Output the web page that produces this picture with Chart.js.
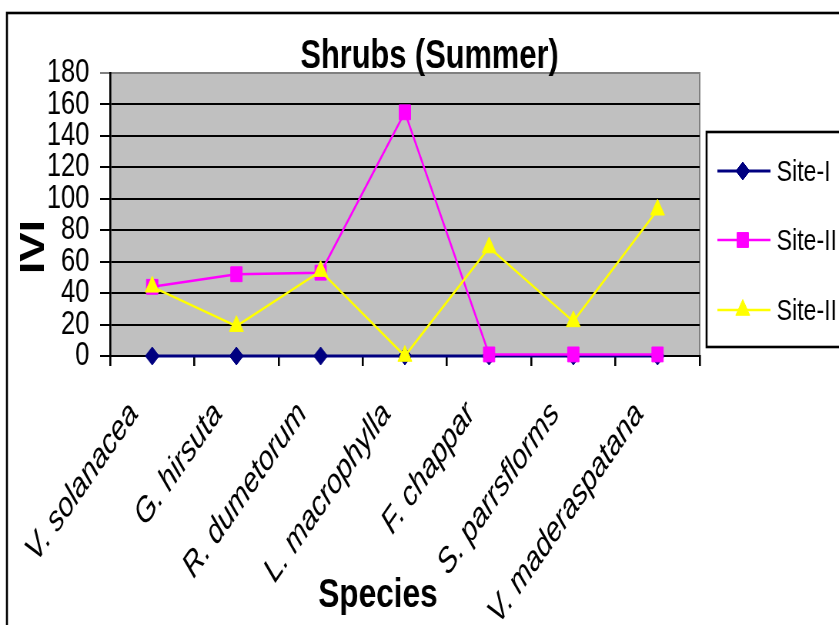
<!DOCTYPE html>
<html>
<head>
<meta charset="utf-8">
<script src="https://cdn.jsdelivr.net/npm/chart.js@4"></script>
<style>
  html, body { margin: 0; padding: 0; background: #fff; overflow: hidden; }
  /* the source chart is squeezed sideways, so draw wide and squeeze the canvas */
  #wrap { width: 1090px; height: 625px; transform: scaleX(0.7697); transform-origin: 0 0; }
</style>
</head>
<body>
<div id="wrap"><canvas id="chart" width="1090" height="625"></canvas></div>
<script>
// ------------------ Data ------------------
const species = ['V. solanacea', 'G. hirsuta', 'R. dumetorum', 'L. macrophylla',
                 'F. chappar', 'S. parrsflorms', 'V. maderaspatana'];
const siteI   = [0, 0, 0, 0, 0, 0, 0];
const siteII  = [44, 52, 53, 155, 1, 1, 1];
const siteIII = [44, 19, 54, 0, 69, 22, 93];
const seriesNames = ['Site-I', 'Site-II', 'Site-III'];
const yMin = 0, yMax = 180, yStep = 20;

const FONT = "'Liberation Sans', Arial, sans-serif";

// ------------------ Frame, titles and legend ------------------
const framePlugin = {
    id: 'frame',
    beforeDraw(chart) {
        const {ctx, chartArea: a} = chart;
        ctx.save();
        ctx.fillStyle = '#fff';
        ctx.fillRect(0, 0, chart.width, chart.height);

        // outer border, runs off the right and bottom
        ctx.strokeStyle = '#000';
        ctx.lineWidth = 2.6;
        ctx.strokeRect(9, 13, chart.width + 40, chart.height + 40);

        // grey plot area
        ctx.fillStyle = '#C0C0C0';
        ctx.fillRect(a.left, a.top, a.right - a.left, a.bottom - a.top);
        ctx.strokeStyle = '#808080';
        ctx.lineWidth = 2;
        ctx.strokeRect(a.left, a.top, a.right - a.left, a.bottom - a.top);
        ctx.restore();
    },
    afterDraw(chart) {
        const {ctx} = chart;
        ctx.save();
        ctx.fillStyle = '#000';
        ctx.textAlign = 'center';
        ctx.textBaseline = 'alphabetic';

        ctx.font = 'bold 40px ' + FONT;
        ctx.fillText('Shrubs (Summer)', 558, 68);

        ctx.font = 'bold 41px ' + FONT;
        ctx.fillText('Species', 491, 607);

        ctx.translate(57, 247);
        ctx.rotate(-Math.PI / 2);
        ctx.font = 'bold 44px ' + FONT;
        ctx.fillText('IVI', 0, 0);
        ctx.restore();

        // legend box
        ctx.save();
        ctx.fillStyle = '#fff';
        ctx.fillRect(918, 132, 300, 215);
        ctx.strokeStyle = '#000';
        ctx.lineWidth = 2.6;
        ctx.strokeRect(918, 132, 300, 215);

        const rows = [171, 240, 310];
        chart.data.datasets.forEach((ds, i) => {
            const y = rows[i];
            ctx.strokeStyle = ds.borderColor;
            ctx.lineWidth = ds.borderWidth;
            ctx.beginPath();
            ctx.moveTo(932, y);
            ctx.lineTo(1001, y);
            ctx.stroke();
            ctx.fillStyle = ds.pointBackgroundColor;
            ctx.strokeStyle = ds.pointBorderColor;
            ctx.lineWidth = 1;
            Chart.helpers.drawPoint(ctx, {pointStyle: ds.pointStyle, radius: ds.pointRadius, borderWidth: 1}, 965, y);
            ctx.fillStyle = '#000';
            ctx.font = '30px ' + FONT;
            ctx.textAlign = 'left';
            ctx.fillText(ds.label, 1009, y + 10);
        });
        ctx.restore();
    }
};

// ------------------ Chart ------------------
function series(label, values, color, style, radius, width, order) {
    return {
        label: label,
        data: values,
        borderColor: color,
        borderWidth: width,
        pointStyle: style,
        pointRadius: radius,
        pointBackgroundColor: color,
        pointBorderColor: color,
        pointBorderWidth: 1,
        tension: 0,
        clip: false,
        order: order
    };
}

new Chart(document.getElementById('chart'), {
    type: 'line',
    data: {
        labels: species,
        datasets: [
            series(seriesNames[0], siteI, '#000080', 'rectRot', 9, 3, 3),
            series(seriesNames[1], siteII, '#FF00FF', 'rect', 10.5, 2.5, 2),
            series(seriesNames[2], siteIII, '#FFFF00', 'triangle', 10.5, 2.5, 1)
        ]
    },
    options: {
        responsive: false,
        animation: false,
        layout: { padding: { top: 73, right: 181, bottom: 0, left: 0 } },
        plugins: {
            legend: { display: false },
            title: { display: false },
            tooltip: { enabled: false }
        },
        scales: {
            x: {
                offset: true,
                afterFit(scale) { scale.height = 269; },
                grid: {
                    offset: true,
                    drawOnChartArea: false,
                    drawTicks: true,
                    tickLength: 10,
                    color: '#000',
                    lineWidth: 2.6
                },
                border: { display: true, color: '#000', width: 2 },
                ticks: {
                    autoSkip: false,
                    minRotation: 48,
                    maxRotation: 48,
                    padding: 28,
                    labelOffset: -24,
                    color: '#000',
                    font: { family: FONT, size: 35, style: 'italic' }
                }
            },
            y: {
                min: yMin,
                max: yMax,
                afterFit(scale) { scale.width = 143; },
                grid: {
                    color: ctx => (ctx.tick && ctx.tick.value === yMax) ? '#808080' : '#000',
                    lineWidth: 2,
                    tickLength: 13
                },
                border: { display: true, color: '#000', width: 2.6 },
                ticks: {
                    autoSkip: false,
                    stepSize: yStep,
                    padding: 14,
                    color: '#000',
                    font: { family: FONT, size: 33 }
                }
            }
        }
    },
    plugins: [framePlugin]
});
</script>
</body>
</html>
